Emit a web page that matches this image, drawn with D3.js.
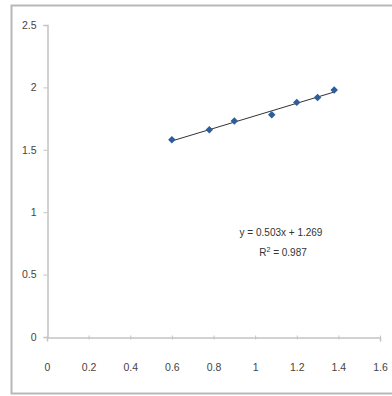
<!DOCTYPE html>
<html>
<head>
<meta charset="utf-8">
<script src="https://cdn.jsdelivr.net/npm/d3@7"></script>
<style>
  html, body { margin: 0; padding: 0; background: #fff; }
  svg { display: block; }
  text { font-family: "Liberation Sans Narrow", "Arial Narrow", "Liberation Sans", sans-serif; }
</style>
</head>
<body>
<svg id="chart" width="392" height="396"></svg>
<script>
// Measured points
const xValues = [0.6, 0.78, 0.9, 1.08, 1.2, 1.3, 1.38];
const yValues = [1.58, 1.66, 1.73, 1.78, 1.88, 1.92, 1.98];

// Linear trendline
const slope = 0.503;
const intercept = 1.269;
const rSquared = 0.987;

const xTicks = [0, 0.2, 0.4, 0.6, 0.8, 1, 1.2, 1.4, 1.6];
const yTicks = [0, 0.5, 1, 1.5, 2, 2.5];

const svg = d3.select("#chart");

// Chart area frame
svg.append("rect")
  .attr("x", 11.5).attr("y", 5.5)
  .attr("width", 392).attr("height", 388)
  .attr("fill", "#fff")
  .attr("stroke", "#b8b8b8")
  .attr("stroke-width", 2);

const x = d3.scaleLinear().domain([0, 1.6]).range([47, 380]);
const y = d3.scaleLinear().domain([0, 2.5]).range([337, 25]);

const fmt = d => String(d);

// Y axis
const yAxis = svg.append("g")
  .attr("transform", "translate(47.5,0)")
  .call(d3.axisLeft(y).tickValues(yTicks).tickSize(4).tickPadding(7).tickFormat(fmt));
// X axis
const xAxis = svg.append("g")
  .attr("transform", "translate(0,337.5)")
  .call(d3.axisBottom(x).tickValues(xTicks).tickSize(4).tickPadding(22).tickFormat(fmt));

[yAxis, xAxis].forEach(g => {
  g.select(".domain").attr("stroke", "#c4c4c4").attr("stroke-width", 1.5);
  g.selectAll(".tick line").attr("stroke", "#c4c4c4");
  g.selectAll(".tick text").attr("fill", "#444").style("font-size", "10.5px");
});
xAxis.selectAll(".tick line").attr("y1", -2).attr("y2", 2);
yAxis.selectAll(".tick line").attr("x1", -4).attr("x2", 0);

// Trendline across the data range
const x0 = d3.min(xValues), x1 = d3.max(xValues);
svg.append("line")
  .attr("x1", x(x0)).attr("y1", y(slope * x0 + intercept))
  .attr("x2", x(x1)).attr("y2", y(slope * x1 + intercept))
  .attr("stroke", "#333")
  .attr("stroke-width", 1);

// Diamond markers (squares turned 45°)
const points = xValues.map((v, i) => ({ x: v, y: yValues[i] }));
svg.append("g").selectAll("path")
  .data(points)
  .join("path")
  .attr("transform", d => `translate(${x(d.x)},${y(d.y)}) rotate(45)`)
  .attr("d", d3.symbol(d3.symbolSquare, 28))
  .attr("fill", "#2c5d9c");

// Trendline equation and fit
const label = svg.append("text")
  .attr("x", 281).attr("y", 236)
  .attr("text-anchor", "middle")
  .attr("fill", "#333")
  .style("font-size", "10px");
label.text(`y = ${slope}x + ${intercept}`);

const r2 = svg.append("text")
  .attr("x", 283).attr("y", 256)
  .attr("text-anchor", "middle")
  .attr("fill", "#333")
  .style("font-size", "10px");
r2.append("tspan").text("R");
r2.append("tspan").attr("dy", -4).style("font-size", "7px").text("2");
r2.append("tspan").attr("dy", 4).text(` = ${rSquared}`);
</script>
</body>
</html>
